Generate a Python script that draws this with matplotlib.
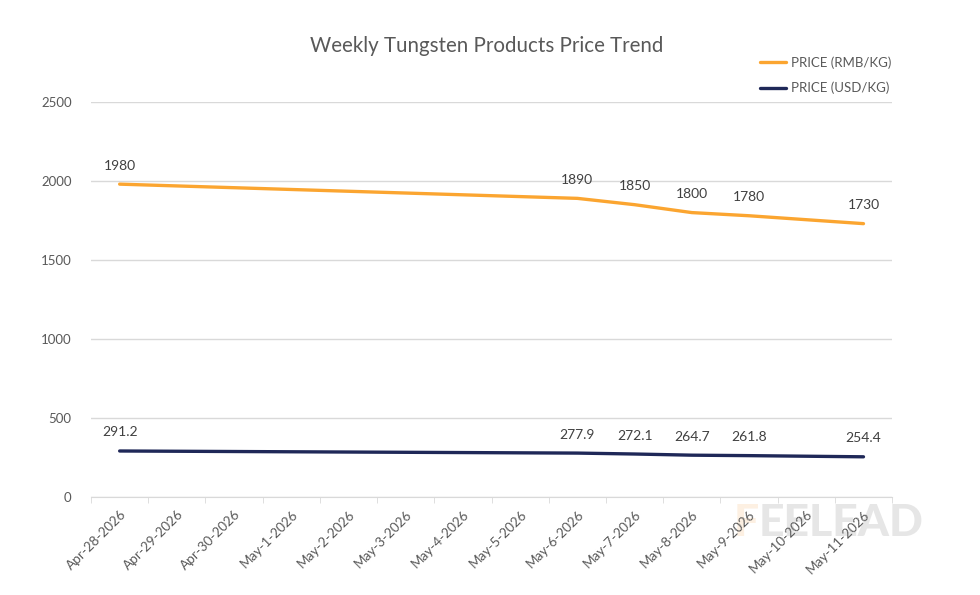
import matplotlib.pyplot as plt

plt.rcParams['font.family'] = ['Lato', 'DejaVu Sans']

# categories (date axis, one per day)
dates = ['Apr-28-2026', 'Apr-29-2026', 'Apr-30-2026', 'May-1-2026', 'May-2-2026',
         'May-3-2026', 'May-4-2026', 'May-5-2026', 'May-6-2026', 'May-7-2026',
         'May-8-2026', 'May-9-2026', 'May-10-2026', 'May-11-2026']

# observed dates and prices
obs_dates = ['Apr-28-2026', 'May-6-2026', 'May-7-2026', 'May-8-2026', 'May-9-2026', 'May-11-2026']
price_rmb = [1980, 1890, 1850, 1800, 1780, 1730]
price_usd = [291.2, 277.9, 272.1, 264.7, 261.8, 254.4]

c_rmb = '#FBA530'
c_usd = '#1F2858'
txt = '#595959'

fig = plt.figure(figsize=(9.8, 5.95), dpi=100)
ax = fig.add_axes([0.0929, 0.1647, 0.8174, 0.6639])
ax.patch.set_alpha(0)

xs = [dates.index(d) for d in obs_dates]
ax.plot(xs, price_rmb, color=c_rmb, lw=2.4, solid_capstyle='round', label='PRICE (RMB/KG)', zorder=3)
ax.plot(xs, price_usd, color=c_usd, lw=2.4, solid_capstyle='round', label='PRICE (USD/KG)', zorder=3)

for x, v in zip(xs, price_rmb):
    ax.annotate(f'{v:g}', (x, v), xytext=(0, 9), textcoords='offset points',
                ha='center', va='bottom', fontsize=10, color='#404040')
for x, v in zip(xs, price_usd):
    ax.annotate(f'{v:g}', (x, v), xytext=(0, 9), textcoords='offset points',
                ha='center', va='bottom', fontsize=10, color='#404040')

ax.set_xlim(-0.5, len(dates) - 0.5)
ax.set_ylim(0, 2500)
ax.set_yticks([0, 500, 1000, 1500, 2000, 2500])
ax.yaxis.grid(True, color='#d9d9d9', lw=1)
ax.set_axisbelow(True)

ax.set_xticks(range(len(dates)))
ax.set_xticklabels(dates, rotation=45, ha='right', rotation_mode='anchor')
ax.set_xticks([i - 0.5 for i in range(len(dates) + 1)], minor=True)
ax.tick_params(axis='x', which='major', length=0, pad=8, labelsize=9.7, labelcolor=txt)
ax.tick_params(axis='x', which='minor', length=4, color='#d9d9d9', direction='out')
ax.tick_params(axis='y', length=0, labelsize=9.5, labelcolor=txt, pad=14)
for s in ['top', 'right', 'left']:
    ax.spines[s].set_visible(False)
ax.spines['bottom'].set_color('#d9d9d9')

fig.text(0.497, 0.922, 'Weekly Tungsten Products Price Trend', ha='center', va='center',
         fontsize=14.8, color=txt)

leg = fig.legend(loc='upper right', bbox_to_anchor=(0.922, 0.925), frameon=False,
                 fontsize=9.5, labelcolor=txt, handlelength=2.0, handletextpad=0.4,
                 labelspacing=0.95)

# watermark, drawn behind the axes
fig.text(0.774, 0.121, 'F', ha='right', va='center', fontsize=32,
         fontweight='black', color='#fdf0e2', zorder=-1)
fig.text(0.774, 0.121, 'EELEAD', ha='left', va='center', fontsize=32,
         fontweight='black', color='#e6e6e6', zorder=-1)

fig.savefig('out.png', dpi=100)
